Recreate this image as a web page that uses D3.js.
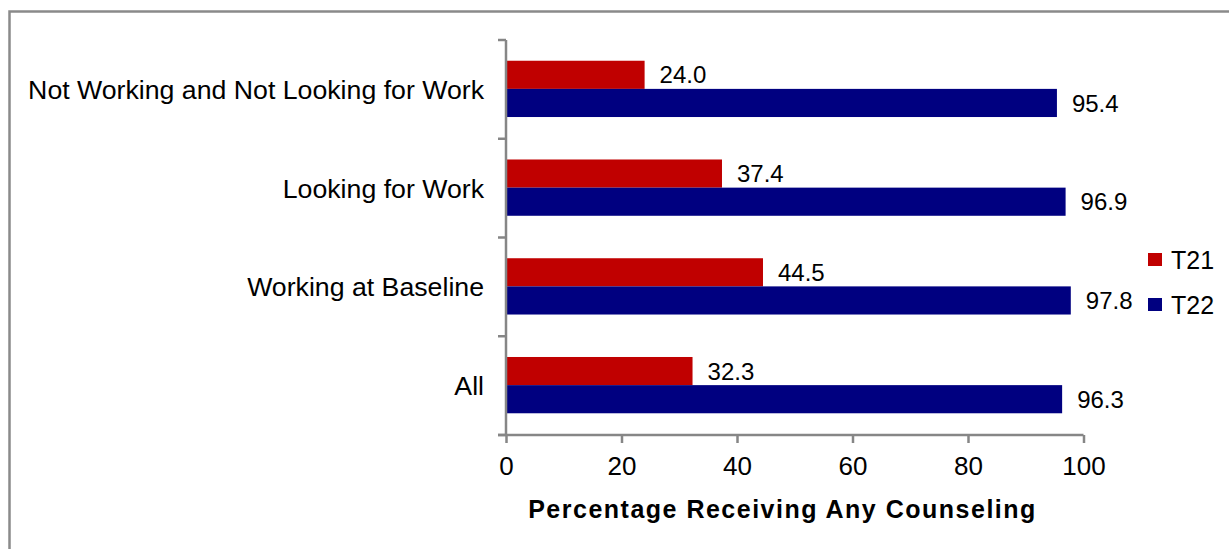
<!DOCTYPE html>
<html>
<head>
<meta charset="utf-8">
<script src="https://cdn.jsdelivr.net/npm/d3@7"></script>
<style>
  html, body { margin: 0; padding: 0; background: #fff; }
  svg { display: block; font-family: "Liberation Sans", Arial, sans-serif; }
</style>
</head>
<body>
<svg id="chart" width="1229" height="549"></svg>
<script>
// Counseling receipt by baseline employment status
const categories = [
  "Not Working and Not Looking for Work",
  "Looking for Work",
  "Working at Baseline",
  "All"
];
const seriesNames = ["T21", "T22"];
const t21Values = [24.0, 37.4, 44.5, 32.3];
const t22Values = [95.4, 96.9, 97.8, 96.3];
const xTicks = [0, 20, 40, 60, 80, 100];
const xTitle = "Percentage Receiving Any Counseling";

const colors = { T21: "#C00000", T22: "#000080" };
const axisColor = "#868686";

const svg = d3.select("#chart");

// outer frame
svg.append("rect")
  .attr("x", 9.5).attr("y", 11.5)
  .attr("width", 1240).attr("height", 560)
  .attr("fill", "none").attr("stroke", "#8a8a8a").attr("stroke-width", 2.5);

const plot = { left: 506, right: 1083.5, top: 40, bottom: 435 };

const x = d3.scaleLinear().domain([0, 100]).range([plot.left, plot.right]);
const y = d3.scaleBand().domain(categories).range([plot.top, plot.bottom]).paddingInner(0).paddingOuter(0);
const inner = d3.scaleBand().domain(seriesNames)
  .range([y.bandwidth() * 0.21, y.bandwidth() * 0.78]);

const rows = categories.map((c, i) => ({ cat: c, T21: t21Values[i], T22: t22Values[i] }));

// bars
const groups = svg.append("g").selectAll("g").data(rows).join("g")
  .attr("transform", d => `translate(0,${y(d.cat)})`);

groups.selectAll("rect").data(d => seriesNames.map(s => ({ s, v: d[s] })))
  .join("rect")
  .attr("x", x(0))
  .attr("y", d => inner(d.s))
  .attr("width", d => x(d.v) - x(0))
  .attr("height", inner.bandwidth())
  .attr("fill", d => colors[d.s]);

// value labels
groups.selectAll("text").data(d => seriesNames.map(s => ({ s, v: d[s] })))
  .join("text")
  .attr("x", d => x(d.v) + 15)
  .attr("y", d => inner(d.s) + inner.bandwidth() / 2)
  .attr("dy", "0.36em")
  .attr("font-size", 24)
  .attr("fill", "#000")
  .text(d => d3.format(".1f")(d.v));

// y axis (category axis) with ticks at band edges
const yAxisG = svg.append("g");
yAxisG.append("line")
  .attr("x1", plot.left).attr("x2", plot.left)
  .attr("y1", plot.top).attr("y2", plot.bottom)
  .attr("stroke", axisColor).attr("stroke-width", 2.5);
const edges = categories.map(c => y(c)).concat([plot.bottom]);
yAxisG.selectAll("line.tick").data(edges).join("line")
  .attr("class", "tick")
  .attr("x1", plot.left - 8).attr("x2", plot.left)
  .attr("y1", d => d).attr("y2", d => d)
  .attr("stroke", axisColor).attr("stroke-width", 2.5);
yAxisG.selectAll("text").data(categories).join("text")
  .attr("x", 484)
  .attr("y", d => y(d) + y.bandwidth() / 2)
  .attr("dy", "0.36em")
  .attr("text-anchor", "end")
  .attr("font-size", 26.7)
  .attr("fill", "#000")
  .text(d => d);

// x axis
const xAxis = d3.axisBottom(x).tickValues(xTicks).tickSize(8).tickSizeOuter(0).tickPadding(14);
const xAxisG = svg.append("g")
  .attr("transform", `translate(0,${plot.bottom})`)
  .call(xAxis);
xAxisG.select(".domain").attr("stroke", axisColor).attr("stroke-width", 2.5)
  .attr("d", `M${plot.left - 8},0H${plot.right}`);
xAxisG.selectAll(".tick line").attr("stroke", axisColor).attr("stroke-width", 2.5);
xAxisG.selectAll(".tick text")
  .attr("font-size", 26).attr("fill", "#000")
  .attr("font-family", "Liberation Sans, Arial, sans-serif");

// x axis title
svg.append("text")
  .attr("x", 782.5).attr("y", 518)
  .attr("text-anchor", "middle")
  .attr("font-size", 25).attr("font-weight", "bold")
  .attr("letter-spacing", 1.5)
  .attr("fill", "#000")
  .text(xTitle);

// legend
const legend = svg.append("g").selectAll("g").data(seriesNames).join("g")
  .attr("transform", (d, i) => `translate(1148,${253 + i * 45})`);
legend.append("rect")
  .attr("width", 14).attr("height", 13)
  .attr("fill", d => colors[d]);
legend.append("text")
  .attr("x", 23).attr("y", 6.5).attr("dy", "0.36em")
  .attr("font-size", 25).attr("fill", "#000")
  .text(d => d);
</script>
</body>
</html>
